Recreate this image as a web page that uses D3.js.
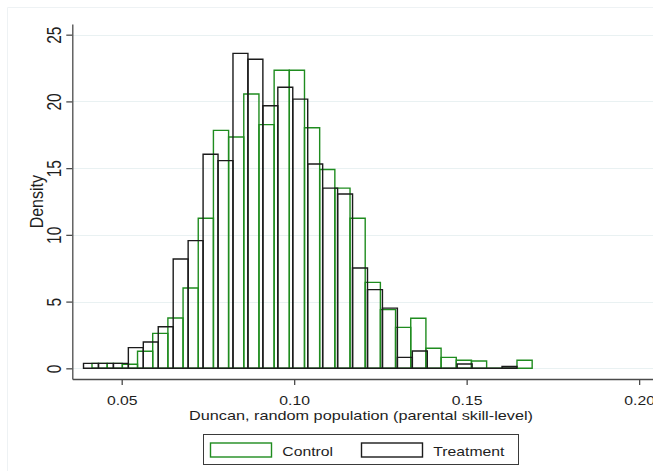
<!DOCTYPE html>
<html>
<head>
<meta charset="utf-8">
<script src="https://cdn.jsdelivr.net/npm/d3@7"></script>
<style>
  body { margin: 0; background: #fff; }
  svg { display: block; }
  text { font-family: "Liberation Sans", Arial, sans-serif; fill: #1e1e1e; }
</style>
</head>
<body>
<div id="chart"></div>
<script>
// two overlaid density histograms, Control (green) and Treatment (black)

var seriesNames = ["Control", "Treatment"];
var seriesColors = ["#1f8c1f", "#1b1b1b"];

// bin layout of each histogram (first edge, bin width), heights are densities
var ctrlStart = 0.04139, ctrlWidth = 0.0044;
var ctrlDensity = [0.37, 0.37, 0.3, 1.28, 2.62, 3.77, 6.02, 11.24, 17.83, 17.33,
                   20.56, 18.26, 22.33, 22.33, 18.03, 14.9, 13.5, 11.24, 6.44, 4.4,
                   3.07, 3.75, 1.5, 0.82, 0.6, 0.55, 0, 0, 0.6];

var treatStart = 0.03893, treatWidth = 0.004333;
var treatDensity = [0.37, 0.37, 0.37, 1.55, 1.97, 3.12, 8.19, 9.57, 16.04, 15.56,
                    23.6, 23.16, 19.68, 21.06, 20.17, 15.31, 13.5, 13.06, 7.52, 5.9,
                    4.51, 0.82, 1.3, 0, 0, 0.32, 0, 0, 0.14];

var xTicks = [0.05, 0.10, 0.15, 0.20];
var yTicks = [0, 5, 10, 15, 20, 25];
var xTitle = "Duncan, random population (parental skill-level)";
var yTitle = "Density";

var width = 653, height = 471,
    stretch = 1.25;   // the picture is wider than tall, text is too

var xScale = d3.scaleLinear().domain([0.03568, 0.2046]).range([72.3, 655]);
var yScale = d3.scaleLinear().domain([-0.8, 25.8]).range([379, 24]);

function binsOf(start, w, dens){
  return dens.map(function(d, i){
    return {x0: start + i * w, x1: start + (i + 1) * w, d: d};
  });
}

// bar outline as a path so empty bins still show as a flat line
function barPath(b){
  var p = d3.path(),
      l = xScale(b.x0), r = xScale(b.x1),
      t = yScale(b.d), base = yScale(0);
  p.moveTo(l, base);
  p.lineTo(l, t);
  p.lineTo(r, t);
  p.lineTo(r, base);
  p.closePath();
  return p.toString();
}

var svg = d3.select("#chart").append("svg")
    .attr("width", width)
    .attr("height", height);

// faint outer frame of the graph region
svg.append("path")
    .attr("d", "M7.5," + height + "V7.5H" + width)
    .attr("fill", "none")
    .attr("stroke", "#eef2f4");

// grid
svg.append("g").selectAll("line")
    .data(yTicks)
    .join("line")
    .attr("x1", xScale.range()[0])
    .attr("x2", xScale.range()[1])
    .attr("y1", d => Math.round(yScale(d)) + 0.5)
    .attr("y2", d => Math.round(yScale(d)) + 0.5)
    .attr("stroke", "#e9f1f2")
    .attr("stroke-width", 1);

// histograms, control first so treatment sits on top
var allBins = [binsOf(ctrlStart, ctrlWidth, ctrlDensity),
               binsOf(treatStart, treatWidth, treatDensity)];

allBins.forEach(function(bins, s){
  svg.append("g").selectAll("path")
      .data(bins)
      .join("path")
      .attr("d", barPath)
      .attr("fill", "none")
      .attr("stroke", seriesColors[s])
      .attr("stroke-width", 1.4);
});

// y axis
var yAxis = svg.append("g")
    .attr("transform", "translate(" + xScale.range()[0] + ",0)")
    .call(d3.axisLeft(yScale).tickValues(yTicks).tickSize(6).tickSizeOuter(0)
          .tickFormat(d3.format("d")));
yAxis.select(".domain").attr("stroke", "#4a4a4a").attr("stroke-width", 1.3);
yAxis.selectAll(".tick line").attr("stroke", "#4a4a4a").attr("stroke-width", 1.3);
yAxis.selectAll(".tick text")
    .attr("x", 0).attr("y", 0).attr("dy", 0)
    .attr("text-anchor", "middle")
    .attr("font-size", 15.5)
    .attr("fill", "#1e1e1e")
    .attr("transform", "translate(-11.3,0) scale(" + stretch + ",1) rotate(-90)");

// x axis
var xAxis = svg.append("g")
    .attr("transform", "translate(0," + yScale.range()[0] + ")")
    .call(d3.axisBottom(xScale).tickValues(xTicks).tickSize(6).tickSizeOuter(0)
          .tickFormat(d3.format(".2f")));
xAxis.select(".domain").attr("stroke", "#4a4a4a").attr("stroke-width", 1.3);
xAxis.selectAll(".tick line").attr("stroke", "#4a4a4a").attr("stroke-width", 1.3);
xAxis.selectAll(".tick text")
    .attr("x", 0).attr("y", 0).attr("dy", 0)
    .attr("text-anchor", "middle")
    .attr("font-size", 12.6)
    .attr("fill", "#1e1e1e")
    .attr("transform", "translate(0,25.7) scale(" + stretch + ",1)");

// axis titles
svg.append("text")
    .attr("transform", "translate(361,420) scale(" + stretch + ",1)")
    .attr("text-anchor", "middle")
    .attr("font-size", 13)
    .text(xTitle);

svg.append("text")
    .attr("transform", "translate(42.7,201.7) scale(1.1,1) rotate(-90)")
    .attr("text-anchor", "middle")
    .attr("font-size", 16)
    .text(yTitle);

// legend
var legend = svg.append("g");
legend.append("rect")
    .attr("x", 203.5).attr("y", 434.5)
    .attr("width", 315).attr("height", 30)
    .attr("fill", "#fff")
    .attr("stroke", "#3a3a3a")
    .attr("stroke-width", 1);

var legendX = [210, 361];
seriesNames.forEach(function(name, s){
  legend.append("rect")
      .attr("x", legendX[s] + 0.5).attr("y", 443)
      .attr("width", 61).attr("height", 14)
      .attr("fill", "none")
      .attr("stroke", seriesColors[s])
      .attr("stroke-width", 1.4);
  legend.append("text")
      .attr("transform", "translate(" + (legendX[s] + 72.3) + ",456) scale(" + stretch + ",1)")
      .attr("font-size", 12.6)
      .text(name);
});
</script>
</body>
</html>
